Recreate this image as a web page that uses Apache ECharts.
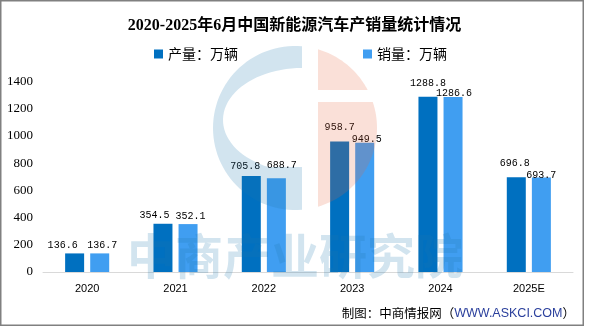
<!DOCTYPE html>
<html>
<head>
<meta charset="utf-8">
<script src="https://cdn.jsdelivr.net/npm/echarts@6/dist/echarts.min.js"></script>
<style>
html,body{margin:0;padding:0;background:#fff;}
#chart{width:589px;height:327px;}
</style>
</head>
<body>
<div id="chart"></div>
<script>
const categories = ['2020', '2021', '2022', '2023', '2024', '2025E'];
const production = [136.6, 354.5, 705.8, 958.7, 1288.8, 696.8];
const sales = [136.7, 352.1, 688.7, 949.5, 1286.6, 693.7];
const seriesNames = ['产量：万辆', '销量：万辆'];
const yTicks = { min: 0, max: 1400, interval: 200 };
// label nudges [dx, dy] (style only, to avoid overlaps like the original)
const prodLabelNudge = [[-12, 0], [-8.5, 0], [-6, -2], [0, -6], [0, -5], [-1.5, -6]];
const salesLabelNudge = [[2.5, 0], [2.5, 0], [5.5, -5], [2, 5], [1, 4], [0, 6]];

const labelFont = { fontFamily: 'Liberation Mono, DejaVu Sans Mono, monospace', fontSize: 10, color: '#000' };

function buildData(vals, nudges) {
  return vals.map((v, i) => ({ value: v, label: { offset: nudges[i] } }));
}

// watermark logo outline helpers (decoration only)
function arcPts(cx, cy, rx, ry, a0, a1, n) {
  const pts = [];
  for (let i = 0; i <= n; i++) {
    const a = a0 + (a1 - a0) * i / n;
    pts.push([cx + rx * Math.cos(a), cy + ry * Math.sin(a)]);
  }
  return pts;
}
const LC = { cx: 295, cy: 128, r: 82 };
const blueOuter = arcPts(LC.cx, LC.cy, LC.r, LC.r, 2 * Math.PI - Math.acos(7 / 82), Math.acos(7 / 82), 60);
const bluePoly = blueOuter.concat([[302, 167]])
  .concat(arcPts(302, 120, 79, 52, Math.PI - Math.asin(47 / 52), 1.5 * Math.PI, 40));
const pinkTop = [[318, LC.cy - Math.sqrt(LC.r * LC.r - 23 * 23)]]
  .concat(arcPts(LC.cx, LC.cy, LC.r, LC.r, -Math.acos(23 / 82), Math.asin((90 - LC.cy) / LC.r), 30))
  .concat([[318, 90]]);
const pinkBottom = [[318, 102]]
  .concat(arcPts(LC.cx, LC.cy, LC.r, LC.r, Math.asin((102 - LC.cy) / LC.r), Math.acos(23 / 82), 40));

const chart = echarts.init(document.getElementById('chart'), null, { renderer: 'canvas' });
chart.setOption({
  animation: false,
  backgroundColor: '#fff',
  title: [{
    text: '2020-2025年6月中国新能源汽车产销量统计情况',
    left: 'center',
    top: 13,
    textStyle: { fontFamily: 'Liberation Serif, Noto Sans CJK SC', fontWeight: 'bold', fontSize: 16, color: '#000' }
  }, {
    text: '{a|制图：中商情报网（}{b|WWW.ASKCI.COM}{a|）}',
    right: 9,
    top: 302,
    textStyle: {
      fontWeight: 'normal',
      rich: {
        a: { fontFamily: 'Noto Sans CJK SC', fontSize: 12.5, color: '#000', fontWeight: 'normal' },
        b: { fontFamily: 'Liberation Sans, Arial', fontSize: 12.5, color: '#2a3f9c', fontWeight: 'normal' }
      }
    }
  }],
  legend: {
    data: seriesNames,
    left: 149,
    top: 42,
    itemWidth: 9,
    itemHeight: 9,
    itemGap: 125,
    icon: 'rect',
    textStyle: { fontFamily: 'Noto Sans CJK SC', fontSize: 14, color: '#000' }
  },
  grid: { left: 43, right: 16, top: 81.5, bottom: 55, containLabel: false },
  xAxis: {
    type: 'category',
    data: categories,
    axisLine: { lineStyle: { color: '#d9d9d9', width: 1 } },
    axisTick: { show: false },
    axisLabel: { color: '#000', fontFamily: 'Liberation Sans, Arial', fontSize: 11, margin: 11 }
  },
  yAxis: {
    type: 'value',
    min: yTicks.min,
    max: yTicks.max,
    interval: yTicks.interval,
    axisLine: { show: false },
    axisTick: { show: false },
    splitLine: { show: false },
    axisLabel: { color: '#000', fontFamily: 'Liberation Serif, Times New Roman', fontSize: 13, margin: 10, formatter: v => String(v) }
  },
  series: [{
    name: seriesNames[0],
    type: 'bar',
    data: buildData(production, prodLabelNudge),
    barWidth: 19,
    barGap: '32%',
    itemStyle: { color: '#0070c0' },
    label: Object.assign({ show: true, position: 'top', distance: 3 }, labelFont)
  }, {
    name: seriesNames[1],
    type: 'bar',
    data: buildData(sales, salesLabelNudge),
    barWidth: 19,
    barGap: '32%',
    itemStyle: { color: '#409ef1' },
    label: Object.assign({ show: true, position: 'top', distance: 3 }, labelFont)
  }],
  graphic: [{
    type: 'polygon',
    z: 50,
    silent: true,
    shape: { points: bluePoly },
    style: { fill: 'rgba(30,120,175,0.2)' }
  }, {
    type: 'polygon',
    z: 50,
    silent: true,
    shape: { points: pinkTop },
    style: { fill: 'rgba(230,100,60,0.2)' }
  }, {
    type: 'polygon',
    z: 50,
    silent: true,
    shape: { points: pinkBottom },
    style: { fill: 'rgba(230,100,60,0.2)' }
  }, {
    type: 'text',
    z: 50,
    silent: true,
    x: 295,
    y: 256,
    style: {
      text: '中商产业研究院',
      fontFamily: 'Noto Sans CJK SC',
      fontWeight: 'bold',
      fontSize: 48,
      fill: 'rgba(30,120,175,0.2)',
      align: 'center',
      verticalAlign: 'middle'
    }
  }, {
    type: 'rect',
    z: 60,
    silent: true,
    shape: { x: 0.75, y: 0.75, width: 582.5, height: 324.5 },
    style: { fill: 'none', stroke: '#808080', lineWidth: 1.5 }
  }]
});
</script>
</body>
</html>
